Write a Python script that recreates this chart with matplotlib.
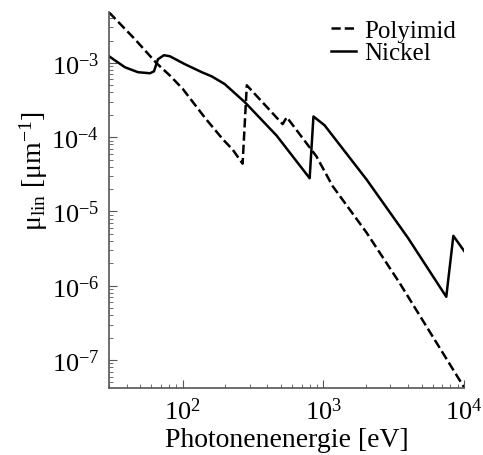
import matplotlib
matplotlib.use("Agg")
import matplotlib.pyplot as plt

# === data ===
poly_E = [30, 45.8, 65, 81, 100, 145, 193, 227, 267,
          286, 514, 550, 895, 1164, 2028, 3475, 10000]
poly_mu = [4.8e-3, 2.09e-3, 1.0e-3, 6.8e-4, 4.5e-4, 1.8e-4, 9.4e-5, 6.8e-5, 4.4e-5,
           5.0e-4, 1.5e-4, 1.86e-4, 5.5e-5, 2.2e-5, 5.2e-6, 1.1e-6, 4.3e-8]

ni_E = [30, 38.9, 48.2, 58.6, 62.6, 66.8, 73.7, 81.2, 104, 137, 161, 199, 277,
        466, 800, 851, 1020, 2028, 4000, 7480, 8400, 10000]
ni_mu = [1.23e-3, 8.75e-4, 7.5e-4, 7.26e-4, 7.7e-4, 1.12e-3, 1.27e-3, 1.23e-3,
         9.6e-4, 7.5e-4, 6.6e-4, 5.2e-4, 2.96e-4, 1.05e-4, 2.8e-5, 1.9e-4,
         1.45e-4, 2.7e-5, 4.4e-6, 7.1e-7, 4.7e-6, 2.95e-6]

# === style ===
plt.rcParams['font.family'] = ['Liberation Serif', 'DejaVu Serif']
plt.rcParams['mathtext.fontset'] = 'custom'
plt.rcParams['mathtext.rm'] = 'Liberation Serif'
plt.rcParams['mathtext.it'] = 'Liberation Serif:italic'
plt.rcParams['font.size'] = 20

fig = plt.figure(figsize=(4.83, 4.56), dpi=100)
ax = fig.add_axes([0.2257, 0.1469, 0.735, 0.8246])

ax.plot(poly_E, poly_mu, '--', color='black', lw=1.8, label='Polyimid')
ax.plot(ni_E, ni_mu, '-', color='black', lw=1.8, label='Nickel')

ax.set_xscale('log')
ax.set_yscale('log')
ax.set_xlim(30, 1e4)
ax.set_ylim(4.2e-8, 4.85e-3)

for side in ['top', 'right']:
    ax.spines[side].set_visible(False)
for side in ['left', 'bottom']:
    ax.spines[side].set_color('#555555')
    ax.spines[side].set_linewidth(1.2)

ax.tick_params(which='both', direction='in', colors='#555555', labelcolor='black',
               labelsize=19)
ax.tick_params(which='major', length=6, pad=7)
ax.tick_params(which='minor', length=3)

ax.set_xlabel('Photonenenergie [eV]', labelpad=2)
ax.set_ylabel('μ$_{\\rm lin}$ [μm$^{-1}$]', labelpad=0)
ax.yaxis.set_label_coords(-0.165, 0.58)

ax.legend(loc='upper right', bbox_to_anchor=(1.04, 1.04), frameon=False,
          handlelength=1.0, handletextpad=0.3, labelspacing=0.0, fontsize=18)

fig.savefig('out.png', dpi=100)
